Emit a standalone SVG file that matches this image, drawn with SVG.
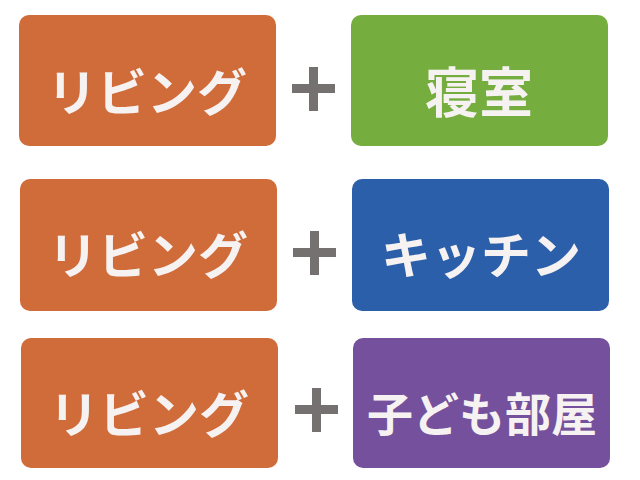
<svg xmlns="http://www.w3.org/2000/svg" width="640" height="480" viewBox="0 0 640 480">
<style>
.box{stroke:none}
.t{font-family:"Noto Sans CJK JP","Noto Sans",sans-serif;font-weight:700;font-size:50px;fill:#f6f2f2;text-anchor:middle;dominant-baseline:central}
.plus{fill:#767171}
.or{fill:#d06b3a}
</style>
<rect width="640" height="480" fill="#ffffff"/>
<g id="living1"><rect class="box or" x="19" y="15" width="257" height="131" rx="10"/><text class="t" x="147" y="89">リビング</text></g>
<g id="plus1" class="plus"><rect x="292" y="84" width="43" height="9"/><rect x="309" y="67" width="9" height="44"/></g>
<g id="bedroom"><rect class="box" fill="#75ae3e" x="351" y="15" width="257" height="131" rx="10"/><text class="t" x="479" y="89" style="font-size:54px">寝室</text></g>
<g id="living2"><rect class="box or" x="20" y="179" width="257" height="132" rx="10"/><text class="t" x="148" y="252">リビング</text></g>
<g id="plus2" class="plus"><rect x="293" y="248" width="43" height="9"/><rect x="310" y="231" width="9" height="44"/></g>
<g id="kitchen"><rect class="box" fill="#2c5faa" x="352" y="179" width="257" height="132" rx="10"/><text class="t" x="481" y="252">キッチン</text></g>
<g id="living3"><rect class="box or" x="21" y="338" width="257" height="130" rx="10"/><text class="t" x="149" y="411">リビング</text></g>
<g id="plus3" class="plus"><rect x="295" y="405" width="43" height="9"/><rect x="312" y="388" width="9" height="44"/></g>
<g id="kids"><rect class="box" fill="#74509d" x="353" y="338" width="257" height="130" rx="10"/><text class="t" x="482" y="411" style="font-size:46px">子ども部屋</text></g>
</svg>
